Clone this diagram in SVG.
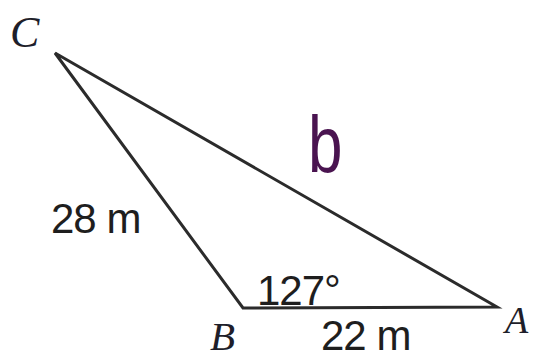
<svg xmlns="http://www.w3.org/2000/svg" width="537" height="359" viewBox="0 0 537 359">
<style>
.edge{stroke:#2b2b2b;stroke-width:3;fill:none;stroke-linejoin:miter;stroke-linecap:round}
.vtx{font-family:"Liberation Serif",serif;font-style:italic;fill:#1e1e2a}
.lbl{font-family:"Liberation Sans",Arial,sans-serif;fill:#1e1e1e;font-size:42px}
</style>
<rect width="537" height="359" fill="#ffffff"/>
<g id="connectors">
<polygon class="edge" points="55,53 243,308 497,307"/>
</g>
<g id="C"><text class="vtx" x="10" y="47" font-size="44">C</text></g>
<g id="B"><text class="vtx" x="210" y="350" font-size="41">B</text></g>
<g id="A"><text class="vtx" x="505" y="333" font-size="38">A</text></g>
<g id="side-b"><text x="0" y="0" transform="translate(308,172) scale(1,1.3)" font-family="Liberation Sans,sans-serif" font-size="62" fill="#4a1450">b</text></g>
<g id="side-a"><text class="lbl" x="51" y="233" letter-spacing="-1">28 m</text></g>
<g id="side-c"><text class="lbl" x="321" y="350" letter-spacing="-1">22 m</text></g>
<g id="angle-B"><text class="lbl" x="257" y="305" letter-spacing="-1">127°</text></g>
</svg>
